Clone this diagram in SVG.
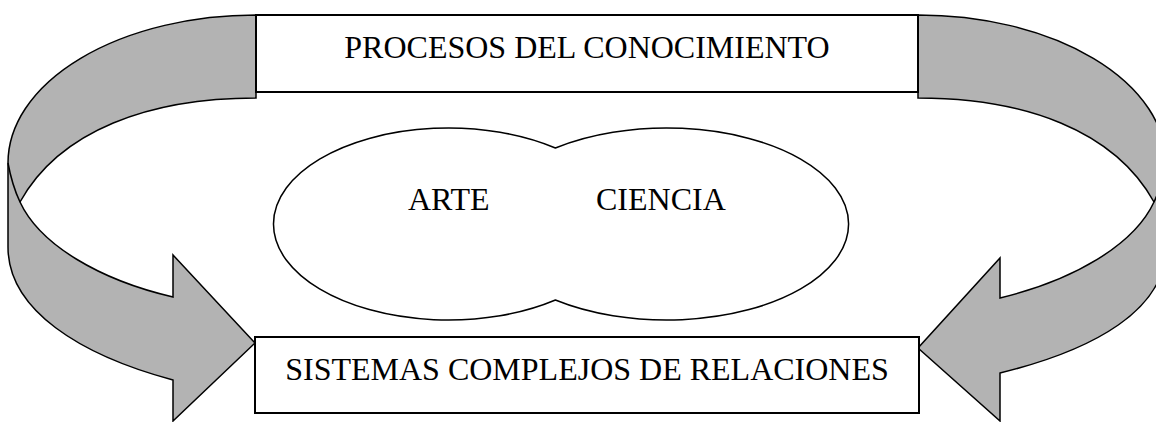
<svg xmlns="http://www.w3.org/2000/svg" width="1156" height="422" viewBox="0 0 1156 422">
<style>
.band{fill:#b3b3b3;stroke:#000;stroke-width:1.5;stroke-linejoin:miter}
.edge{fill:none;stroke:#000;stroke-width:1.5}
.box{fill:#fff;stroke:#000;stroke-width:2}
.lbl{font-family:"Liberation Serif","Times New Roman",serif;font-size:32px;fill:#000}
</style>
<rect width="1156" height="422" fill="#fff"/>
<g id="connectors">
  <g id="arrow-left">
    <path class="band" d="M256,15 A248,148 0 0 0 8,163 L8,247 C8,310 80,355 173,380 L173,421 L255,343 L173,255 L173,297 C100,280 40,245 20,202 C60,130 150,98 256,98 Z"/>
    <path class="edge" d="M20,202 Q12,185 8,163"/>
  </g>
  <g id="arrow-right">
    <path class="band" d="M918,15 A248,148 0 0 1 1166,163 L1166,247 C1166,310 1094,350 1000,373 L1000,421 L918,348 L1000,258 L1000,298 C1074,280 1134,245 1154,202 C1114,130 1024,98 918,98 Z"/>
    <path class="edge" d="M1154,202 Q1162,185 1166,163"/>
  </g>
</g>
<g id="node-procesos">
  <rect class="box" x="256" y="15" width="662" height="77"/>
  <text class="lbl" x="587" y="58" text-anchor="middle">PROCESOS DEL CONOCIMIENTO</text>
</g>
<g id="node-arte-ciencia">
  <path d="M555.4,148 A175,96 0 1 0 555.4,300 A182,96 0 1 0 555.4,148 Z" fill="#fff" stroke="#000" stroke-width="1.5"/>
  <text class="lbl" x="408" y="210">ARTE</text>
  <text class="lbl" x="596" y="210">CIENCIA</text>
</g>
<g id="node-sistemas">
  <rect class="box" x="255" y="337" width="664" height="76"/>
  <text class="lbl" x="587" y="380" text-anchor="middle">SISTEMAS COMPLEJOS DE RELACIONES</text>
</g>
</svg>
